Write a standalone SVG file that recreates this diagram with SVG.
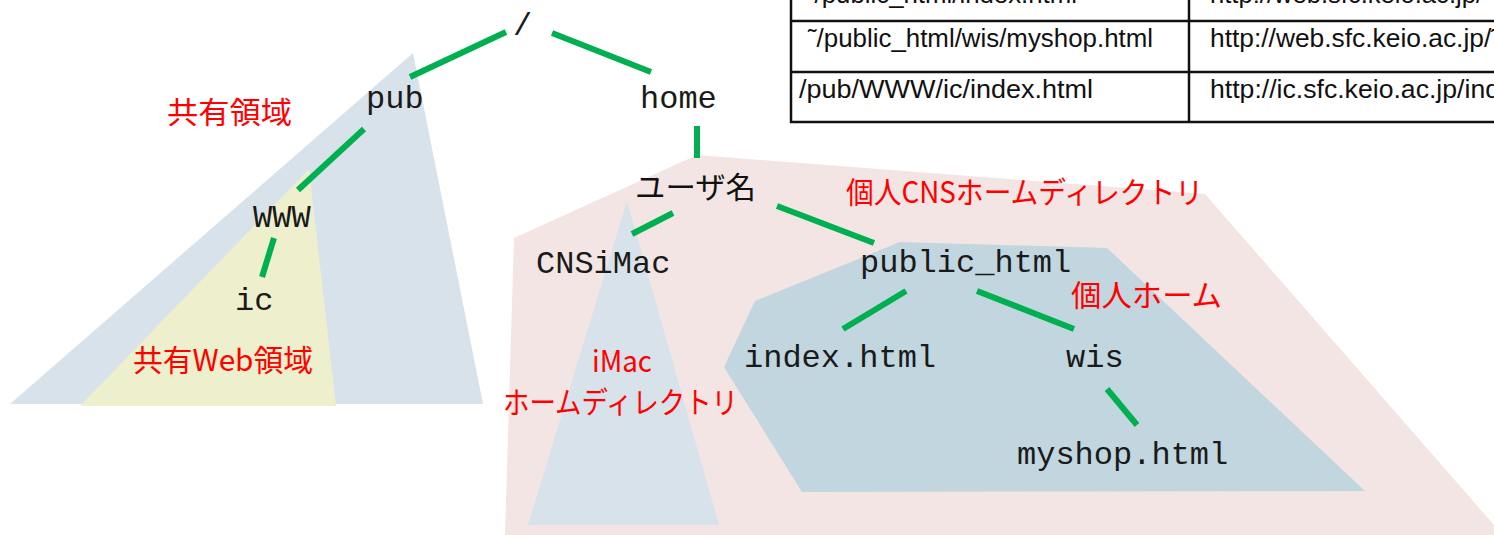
<svg xmlns="http://www.w3.org/2000/svg" width="1494" height="535" viewBox="0 0 1494 535">
  <style>
    .node { font-family: "Liberation Mono", "DejaVu Sans Mono", monospace; font-size: 32px; fill: #1a1a1a; }
    .jp { font-family: "Noto Sans CJK JP", "Noto Sans", sans-serif; font-size: 30px; }
    .red { fill: #ff0000; }
    .black { fill: #111111; }
    .cell { font-family: "Liberation Sans", Arial, sans-serif; font-size: 26px; fill: #111111; }
    .edge { stroke: #00b050; stroke-width: 6; fill: none; }
    .grid { stroke: #111111; stroke-width: 2.5; fill: none; }
  </style>

  <!-- shaded regions -->
  <g id="regions">
    <polygon id="shared-area" points="413,53 483,404 10,404" fill="#d8e2ea"/>
    <polygon id="shared-web-area" points="309,169 336,406 80,406" fill="#eeefcc"/>
    <polygon id="cns-home-area" points="697,155 1205,194 1494,525 1494,535 505,535 514,238" fill="#f2e5e4"/>
    <polygon id="imac-area" points="627,201 719,525 528,525" fill="#d8e2ea"/>
    <polygon id="personal-home-area" points="900,242 1107,248 1365,491 802,492 724,367 755,301" fill="#c1d6de"/>
  </g>

  <!-- path table -->
  <g id="path-table">
    <rect x="791" y="-10" width="720" height="132" class="grid" stroke-width="3"/>
    <line x1="791" y1="21" x2="1494" y2="21" class="grid"/>
    <line x1="791" y1="72" x2="1494" y2="72" class="grid"/>
    <line x1="1189" y1="-10" x2="1189" y2="122" class="grid"/>
    <text class="cell" x="806" y="3" textLength="271" lengthAdjust="spacingAndGlyphs">˜/public_html/index.html</text>
    <text class="cell" x="1210" y="3" textLength="273" lengthAdjust="spacingAndGlyphs">http://web.sfc.keio.ac.jp/</text>
    <text class="cell" x="808" y="47" textLength="345" lengthAdjust="spacingAndGlyphs">˜/public_html/wis/myshop.html</text>
    <text class="cell" x="1210" y="47" textLength="290" lengthAdjust="spacingAndGlyphs">http://web.sfc.keio.ac.jp/˜</text>
    <text class="cell" x="799" y="98" textLength="294" lengthAdjust="spacingAndGlyphs">/pub/WWW/ic/index.html</text>
    <text class="cell" x="1210" y="98" textLength="290" lengthAdjust="spacingAndGlyphs">http://ic.sfc.keio.ac.jp/ind</text>
  </g>

  <!-- tree connectors -->
  <g id="connectors">
    <line class="edge" x1="410" y1="77" x2="506" y2="32"/>
    <line class="edge" x1="552" y1="33" x2="651" y2="72"/>
    <line class="edge" x1="364" y1="129" x2="298" y2="190"/>
    <line class="edge" x1="274" y1="238" x2="262" y2="277"/>
    <line class="edge" x1="697" y1="126" x2="697" y2="158"/>
    <line class="edge" x1="673" y1="213" x2="632" y2="234"/>
    <line class="edge" x1="777" y1="206" x2="874" y2="243"/>
    <line class="edge" x1="906" y1="291" x2="843" y2="329"/>
    <line class="edge" x1="977" y1="291" x2="1074" y2="329"/>
    <line class="edge" x1="1107" y1="389" x2="1137" y2="425"/>
  </g>

  <!-- directory nodes -->
  <g id="node-root"><text class="node" x="513" y="35">/</text></g>
  <g id="node-pub"><text class="node" x="366" y="108">pub</text></g>
  <g id="node-home"><text class="node" x="640" y="108">home</text></g>
  <g id="node-www"><text class="node" x="253" y="227">WWW</text></g>
  <g id="node-ic"><text class="node" x="235" y="310">ic</text></g>
  <g id="node-user"><text class="jp black" x="635" y="198" textLength="121" lengthAdjust="spacingAndGlyphs">ユーザ名</text></g>
  <g id="node-cnsimac"><text class="node" x="536" y="273">CNSiMac</text></g>
  <g id="node-public-html"><text class="node" x="860" y="272">public_html</text></g>
  <g id="node-index"><text class="node" x="744" y="367">index.html</text></g>
  <g id="node-wis"><text class="node" x="1066" y="367">wis</text></g>
  <g id="node-myshop"><text class="node" x="1017" y="464">myshop.html</text></g>

  <!-- region labels -->
  <g id="label-shared"><text class="jp red" x="167" y="123" textLength="125" lengthAdjust="spacingAndGlyphs">共有領域</text></g>
  <g id="label-shared-web"><text class="jp red" x="133" y="371" textLength="180" lengthAdjust="spacingAndGlyphs">共有Web領域</text></g>
  <g id="label-cns-home"><text class="jp red" x="846" y="203" textLength="357" lengthAdjust="spacingAndGlyphs">個人CNSホームディレクトリ</text></g>
  <g id="label-personal-home"><text class="jp red" x="1071" y="306" textLength="151" lengthAdjust="spacingAndGlyphs">個人ホーム</text></g>
  <g id="label-imac">
    <text class="jp red" x="592" y="372" font-size="25" textLength="60" lengthAdjust="spacingAndGlyphs">iMac</text>
    <text class="jp red" x="503" y="413" textLength="235" lengthAdjust="spacingAndGlyphs">ホームディレクトリ</text>
  </g>
</svg>
